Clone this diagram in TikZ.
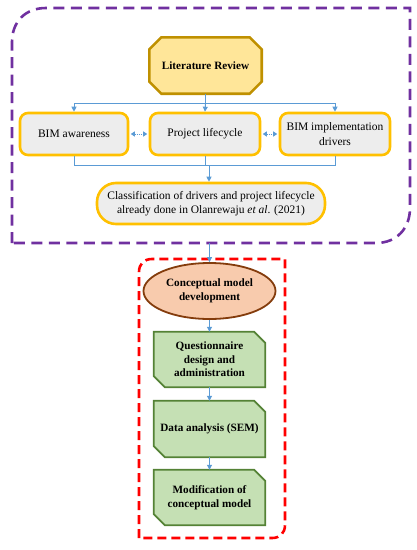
\documentclass[tikz,border=0pt]{standalone}
\usepackage{fontspec}
\setmainfont{Liberation Serif}
\usetikzlibrary{arrows.meta,shapes.geometric,calc}
\pgfdeclarelayer{background}
\pgfsetlayers{background,main}
\definecolor{lrfill}{HTML}{FFE699}
\definecolor{lrdraw}{HTML}{BF9000}
\definecolor{gfill}{HTML}{EDEDED}
\definecolor{odraw}{HTML}{FFC000}
\definecolor{cblue}{HTML}{5B9BD5}
\definecolor{cpurple}{HTML}{7030A0}
\definecolor{cred}{HTML}{FF0000}
\definecolor{efill}{HTML}{F8CBAD}
\definecolor{edraw}{HTML}{843C0C}
\definecolor{grfill}{HTML}{C5E0B4}
\definecolor{grdraw}{HTML}{548235}
\begin{document}
\begin{tikzpicture}[x=1pt,y=-1pt,
  txt/.style={font=\fontsize{11.5}{14.5}\selectfont, align=center, inner sep=0pt},
  btxt/.style={font=\fontsize{11.2}{13.6}\selectfont\bfseries, align=center, inner sep=0pt},
  obox/.style={txt, draw=odraw, fill=gfill, line width=2.6pt, rounded corners=8pt, minimum height=42pt},
  octbox/.style={btxt, minimum width=112pt, minimum height=56pt},
  octshape/.style={draw=lrdraw, fill=lrfill, line width=2.6pt, line join=miter},
  ellbox/.style={btxt, ellipse, draw=edraw, fill=efill, line width=1.8pt, minimum width=132pt, minimum height=56pt},
  grbox/.style={btxt, minimum width=111pt},
  grshape/.style={draw=grdraw, fill=grfill, line width=1.8pt},
  conn/.style={draw=cblue, line width=1pt},
  arr/.style={conn, -{Triangle[width=5pt,length=5pt]}},
  darr/.style={draw=cblue, line width=1pt, densely dotted, {Triangle[width=5pt,length=4pt]}-{Triangle[width=5pt,length=4pt]}},
  purpledash/.style={draw=cpurple, line width=2.6pt, dash pattern=on 11pt off 6.5pt},
  reddash/.style={draw=cred, line width=2.6pt, dash pattern=on 9pt off 5pt}
]
\useasboundingbox (0,0) rectangle (417,550);

% nodes
\node[octbox] (lr) at (205.5,65.5) {Literature Review};
\node[obox, minimum width=108pt] (aw) at (74,134) {BIM awareness};
\node[obox, minimum width=110pt] (pl) at (205,134) {Project lifecycle};
\node[obox, minimum width=110pt] (dr) at (335,134) {BIM implementation\\drivers};
\node[txt, draw=odraw, fill=gfill, line width=2.6pt, rounded corners=19pt, minimum width=228pt, minimum height=41pt] (cl) at (211,203.5) {Classification of drivers and project lifecycle\\already done in Olanrewaju \textit{et al}. (2021)};

\node[ellbox] (cm) at (209.5,291) {Conceptual model\\development};
\node[grbox, minimum height=55pt] (qd) at (209.5,359.5) {Questionnaire\\design and\\administration};
\node[grbox, minimum height=56pt] (da) at (209.5,429) {Data analysis (SEM)};
\node[grbox, minimum height=55pt] (mc) at (209.5,497.5) {Modification of\\conceptual model};

\begin{pgfonlayer}{background}
  % group frames
  \draw[purpledash] (12,243) -- (12,42) .. controls (12,22) and (25,8) .. (46,8) -- (410,8) -- (410,208) .. controls (410,228) and (397,243) .. (376,243) -- cycle;
  \draw[reddash] (139,538) -- (139,272) .. controls (139,264) and (144,259) .. (152,259) -- (285,259) -- (285,525) .. controls (285,533) and (280,538) .. (272,538) -- cycle;
  % octagon
  \path[octshape] ($(lr.north west)+(12,0)$) -- ($(lr.north east)+(-12,0)$) -- ($(lr.north east)+(0,12)$) -- ($(lr.south east)+(0,-12)$) -- ($(lr.south east)+(-12,0)$) -- ($(lr.south west)+(12,0)$) -- ($(lr.south west)+(0,-12)$) -- ($(lr.north west)+(0,12)$) -- cycle;
  % green chamfered boxes
  \foreach \n in {qd,da,mc}{
    \path[grshape] (\n.north west) -- ($(\n.north east)+(-11,0)$) -- ($(\n.north east)+(0,11)$) -- (\n.south east) -- ($(\n.south west)+(11,0)$) -- ($(\n.south west)+(0,-11)$) -- cycle;
  }
\end{pgfonlayer}

% connectors
\coordinate (split) at (205.5,103);
\coordinate (merge) at (209,165);
\coordinate (pb) at (209.5,243);
\draw[conn] (lr.south) -- (split);
\draw[arr] (split) -| (aw.north);
\draw[arr] (split) -| (dr.north);
\draw[arr] (split) -- (pl.north);
\draw[darr, shorten <=1.5pt, shorten >=1.5pt] (aw.east) -- (pl.west);
\draw[darr, shorten <=1.5pt, shorten >=1.5pt] (pl.east) -- (dr.west);
\draw[conn] (aw.south) |- (merge);
\draw[conn] (dr.south) |- (merge);
\draw[conn] (pl.south) -- (pl.south |- merge);
\draw[arr] (merge) -- (cl.north -| merge);
\draw[arr] (pb) -- (cm.north);
\draw[arr] (cm.south) -- (qd.north);
\draw[arr] (qd.south) -- (da.north);
\draw[arr] (da.south) -- (mc.north);
\end{tikzpicture}
\end{document}
